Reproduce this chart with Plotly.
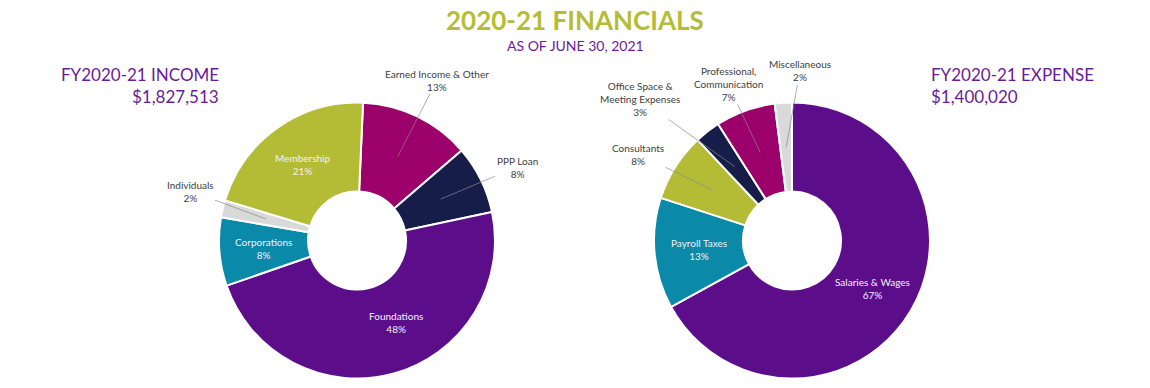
import math
import plotly.graph_objects as go

# ---------------- data ----------------
income_labels = ["Earned Income & Other", "PPP Loan", "Foundations", "Corporations", "Individuals", "Membership"]
income_values = [13, 8, 48, 8, 2, 21]
income_total = "$1,827,513"

expense_labels = ["Salaries & Wages", "Payroll Taxes", "Consultants",
                  "Office Space & Meeting Expenses", "Professional, Communication", "Miscellaneous"]
expense_values = [67, 13, 8, 3, 7, 2]
expense_total = "$1,400,020"

# ---------------- styling ----------------
W, H = 1150, 388
FONT = "Lato"
PURPLE_TXT = "#6a1b9a"
GREEN_TXT = "#b4bd35"
LABEL_TXT = "#404040"
slice_colors_income = ["#9c006b", "#161d48", "#5c0e8a", "#0a89a8", "#d9d9d9", "#b4bc35"]
slice_colors_expense = ["#5c0e8a", "#0a89a8", "#b4bc35", "#161d48", "#9c006b", "#d9d9d9"]

R = 138
HOLE = 0.355
pies = [
    dict(labels=income_labels, values=income_values, colors=slice_colors_income,
         cx=357, cy=240.5, rotation=2.5,
         display={},
         inside_shift={"Foundations": (14, -8)},
         outside={"Earned Income & Other": (437, 80), "PPP Loan": (517, 167), "Individuals": (190, 191)}),
    dict(labels=expense_labels, values=expense_values, colors=slice_colors_expense,
         cx=792, cy=240.5, rotation=0,
         display={"Office Space & Meeting Expenses": "Office Space &<br>Meeting Expenses",
                  "Professional, Communication": "Professional,<br>Communication"},
         inside_shift={},
         outside={"Consultants": (638, 154), "Office Space & Meeting Expenses": (640, 99),
                  "Professional, Communication": (728, 84), "Miscellaneous": (800, 71)}),
]


def px2paper(x, y):
    return x / W, 1 - y / H


fig = go.Figure()
annotations = []

for p in pies:
    x0, y1 = px2paper(p["cx"] - R, p["cy"] - R)
    x1, y0 = px2paper(p["cx"] + R, p["cy"] + R)
    fig.add_trace(go.Pie(
        labels=p["labels"], values=p["values"], sort=False, direction="clockwise",
        rotation=p["rotation"], hole=HOLE, textinfo="none", hoverinfo="skip",
        marker=dict(colors=p["colors"], line=dict(color="white", width=2)),
        domain=dict(x=[x0, x1], y=[y0, y1]), showlegend=False,
    ))
    total = sum(p["values"])
    start = p["rotation"]
    rmid = (HOLE * R + R) / 2
    for lab, val in zip(p["labels"], p["values"]):
        span = 360.0 * val / total
        mid = math.radians(start + span / 2)
        start += span
        tx = p["cx"] + rmid * math.sin(mid)
        ty = p["cy"] - rmid * math.cos(mid)
        text = f"{p['display'].get(lab, lab)}<br>{round(100 * val / total)}%"
        if lab in p["outside"]:
            ax_, ay_ = px2paper(tx, ty)
            lx, ly = p["outside"][lab]
            annotations.append(dict(
                x=ax_, y=ay_, xref="paper", yref="paper", text=text,
                showarrow=True, arrowhead=0, arrowwidth=0.7, arrowcolor="#8a8a8a",
                ax=lx - tx, ay=ly - ty, axref="pixel", ayref="pixel",
                xanchor="center", yanchor="middle",
                font=dict(family=FONT, size=10, color=LABEL_TXT), align="center"))
        else:
            dx, dy = p["inside_shift"].get(lab, (0, 0))
            ax_, ay_ = px2paper(tx + dx, ty + dy)
            annotations.append(dict(
                x=ax_, y=ay_, xref="paper", yref="paper", text=text, showarrow=False,
                xanchor="center", yanchor="middle",
                font=dict(family=FONT, size=10, color="#f4eef8"), align="center"))

# titles
def txt(x, y, text, size, color, xanchor="center", bold=False):
    t = f"<b>{text}</b>" if bold else text
    xp, yp = px2paper(x, y)
    annotations.append(dict(x=xp, y=yp, xref="paper", yref="paper", text=t, showarrow=False,
                            xanchor=xanchor, yanchor="middle",
                            font=dict(family=FONT, size=size, color=color)))

txt(575, 20, "2020-21 FINANCIALS", 26, GREEN_TXT, bold=True)
txt(575, 45, "AS OF JUNE 30, 2021", 14, PURPLE_TXT)
txt(221, 75, "FY2020-21 INCOME", 17, PURPLE_TXT, xanchor="right")
txt(221, 96, income_total, 17, PURPLE_TXT, xanchor="right")
txt(929, 75, "FY2020-21 EXPENSE", 17, PURPLE_TXT, xanchor="left")
txt(929, 96, expense_total, 17, PURPLE_TXT, xanchor="left")

fig.update_layout(width=W, height=H, margin=dict(l=0, r=0, t=0, b=0),
                  paper_bgcolor="white", plot_bgcolor="white",
                  annotations=annotations, font=dict(family=FONT))
fig.write_html("out.html", config={"displayModeBar": False},
               post_script="document.body.style.margin='0';")
